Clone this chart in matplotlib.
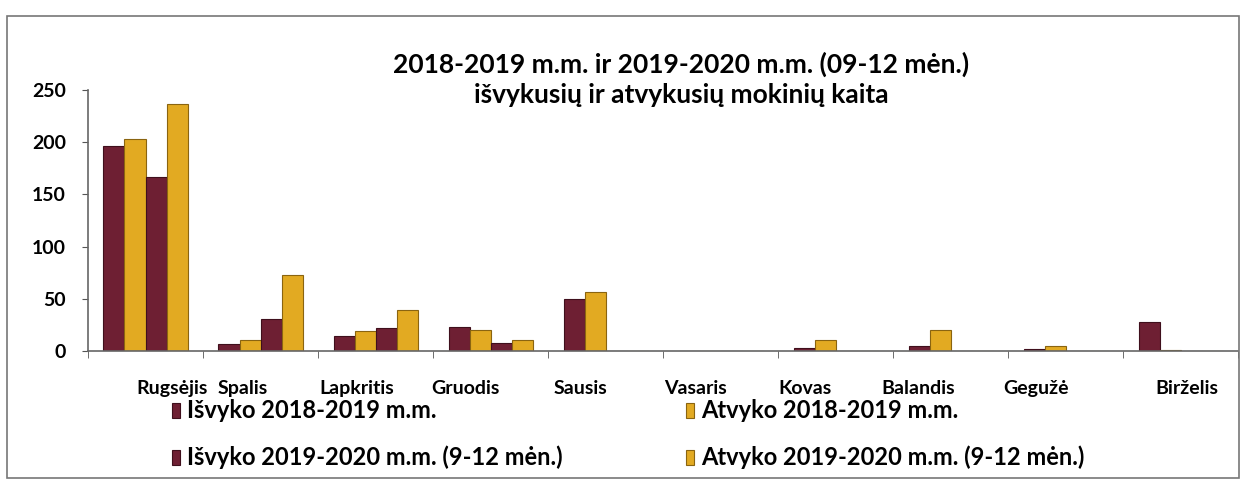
import numpy as np
import matplotlib.pyplot as plt
from matplotlib.patches import Rectangle
from matplotlib.transforms import ScaledTranslation

# ---- data --------------------------------------------------------------------
months = ['Rugsėjis', 'Spalis', 'Lapkritis', 'Gruodis', 'Sausis',
          'Vasaris', 'Kovas', 'Balandis', 'Gegužė', 'Birželis']
isvyko_1819 = [196, 7, 14, 23, 50, 0, 3, 5, 2, 28]
atvyko_1819 = [203, 10, 19, 20, 56, 0, 10, 20, 5, 1]
isvyko_1920 = [167, 31, 22, 8, 0, 0, 0, 0, 0, 0]
atvyko_1920 = [237, 73, 39, 10, 0, 0, 0, 0, 0, 0]

labels = ['Išvyko 2018-2019 m.m.', 'Atvyko 2018-2019 m.m.',
          'Išvyko 2019-2020 m.m. (9-12 mėn.)', 'Atvyko 2019-2020 m.m. (9-12 mėn.)']
title = '2018-2019 m.m. ir 2019-2020 m.m. (09-12 mėn.)\nišvykusių ir atvykusių mokinių kaita'

# ---- style -------------------------------------------------------------------
red, red_edge = '#6e1f33', '#3f0f1c'
gold, gold_edge = '#e2aa22', '#8a6410'
plt.rcParams['font.family'] = ['Lato', 'DejaVu Sans']
plt.rcParams['font.weight'] = 'bold'

fig = plt.figure(figsize=(12.45, 4.8), dpi=100)
ax = fig.add_axes([0.0707, 0.269, 0.924, 0.5435])

x = np.arange(len(months))
w = 0.183
series = [(isvyko_1819, red, red_edge), (atvyko_1819, gold, gold_edge),
          (isvyko_1920, red, red_edge), (atvyko_1920, gold, gold_edge)]
handles = []
for i, (vals, c, ec) in enumerate(series):
    h = ax.bar(x + (i - 1.5) * w, vals, width=w, color=c, edgecolor=ec,
               linewidth=0.8, label=labels[i])
    handles.append(h)

ax.set_xlim(-0.5, len(months) - 0.5)
ax.set_ylim(0, 250)
ax.set_yticks([0, 50, 100, 150, 200, 250])
ax.set_xticks(x)
ax.set_xticklabels(months, fontsize=14, fontweight='bold')
ax.set_xticks(np.arange(len(months) + 1) - 0.5, minor=True)
ax.tick_params(axis='x', which='major', length=0, pad=21)
ax.tick_params(axis='x', which='minor', length=5, direction='out', color='#555555')
ax.tick_params(axis='y', labelsize=14, length=4, color='#555555', pad=12)
for t in ax.get_yticklabels():
    t.set_fontweight('bold')

# the month labels in the original sit a little off the group centres
shift_px = [27, -18, -19, -25, -25, -25, -31, -33, -30, 6]
for t, dx in zip(ax.get_xticklabels(), shift_px):
    t.set_transform(t.get_transform() + ScaledTranslation(dx / 100, 0, fig.dpi_scale_trans))

for s in ['top', 'right']:
    ax.spines[s].set_visible(False)
for s in ['left', 'bottom']:
    ax.spines[s].set_color('#666666')
    ax.spines[s].set_linewidth(1.2)

fig.text(0.547, 0.835, title, ha='center', va='center', fontsize=19,
         fontweight='bold', linespacing=1.3)

# legend: two columns
leg_kw = dict(loc='upper left', frameon=False, fontsize=17, handlelength=0.35,
              handleheight=0.6, handletextpad=0.3, labelspacing=0.99,
              borderaxespad=0)
fig.legend([handles[0], handles[2]], [labels[0], labels[2]],
           bbox_to_anchor=(0.1306, 0.1875), **leg_kw)
fig.legend([handles[1], handles[3]], [labels[1], labels[3]],
           bbox_to_anchor=(0.5435, 0.1875), **leg_kw)

# outer frame
fig.patches.append(Rectangle((0.006, 0.004), 0.989, 0.962, transform=fig.transFigure,
                             fill=False, edgecolor='#777777', linewidth=1.2))

fig.savefig('out.png', dpi=100)
